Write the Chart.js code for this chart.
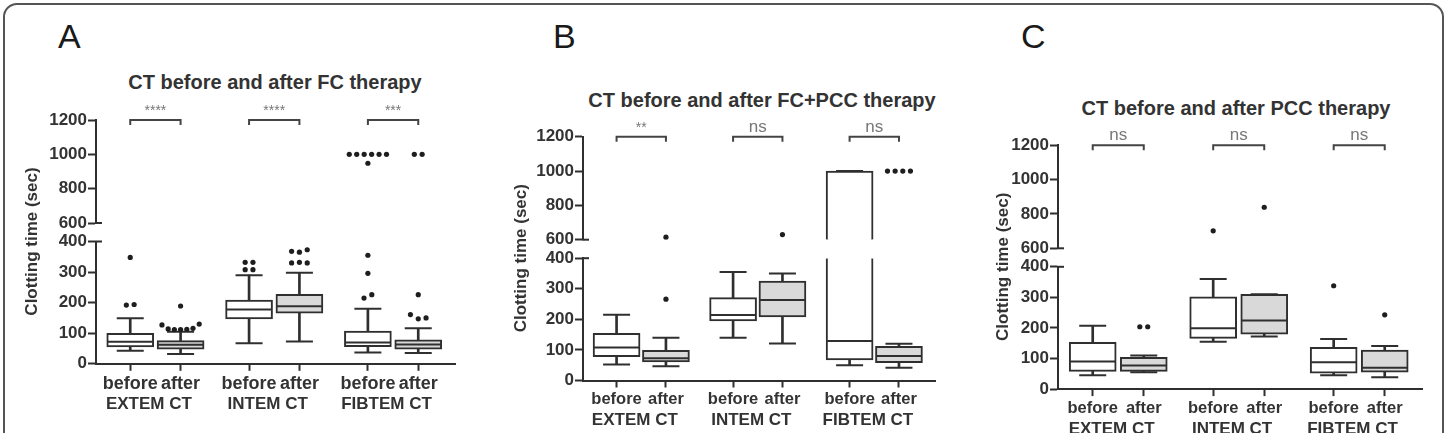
<!DOCTYPE html>
<html lang="en">
<head>
<meta charset="utf-8">
<title>CT before and after therapy</title>
<script src="https://cdn.jsdelivr.net/npm/chart.js@4.4.1/dist/chart.umd.min.js"></script>
<style>
  html, body { margin: 0; padding: 0; }
  body { width: 1447px; height: 433px; overflow: hidden; background: #fff; position: relative;
         font-family: "Liberation Sans", Arial, sans-serif; color: #333; }
  #frame { position: absolute; left: 3px; top: 3px; width: 1441px; height: 480px;
           border: 2px solid #555; border-radius: 14px; box-sizing: border-box; }
  .letter { position: absolute; font-size: 34px; line-height: 34px; color: #1a1a1a; }
  .title { position: absolute; font-size: 20px; line-height: 20px; font-weight: bold;
           white-space: nowrap; transform: translateX(-50%); color: #333; }
  canvas { position: absolute; top: 0; }
</style>
</head>
<body>
<div id="frame"></div>

<div class="letter" style="left:58px;top:19px">A</div>
<div class="letter" style="left:553px;top:19px">B</div>
<div class="letter" style="left:1021px;top:19px">C</div>

<div class="title" id="titleA" style="left:275px;top:72px"></div>
<div class="title" id="titleB" style="left:762px;top:90px"></div>
<div class="title" id="titleC" style="left:1236px;top:98px"></div>

<canvas id="chartA" width="480" height="470" style="left:0px"></canvas>
<canvas id="chartB" width="480" height="470" style="left:480px"></canvas>
<canvas id="chartC" width="487" height="470" style="left:960px"></canvas>

<script>
// ---- data ----
const groupLabels = ['EXTEM CT', 'INTEM CT', 'FIBTEM CT'];
const phaseLabels = ['before', 'after'];
const topTicks = [600, 800, 1000, 1200];
const bottomTicks = [0, 100, 200, 300, 400];
const yTitle = 'Clotting time (sec)';

// A: FC therapy (order: EXTEM before/after, INTEM before/after, FIBTEM before/after)
const fcTitle = 'CT before and after FC therapy';
const fcMin    = [43, 32, 67, 73, 37, 35];
const fcQ1     = [55, 48, 147, 166, 56, 48];
const fcMedian = [72, 62, 178, 188, 70, 63];
const fcQ3     = [100, 76, 208, 227, 107, 78];
const fcMax    = [149, 105, 290, 298, 180, 116];
const fcOutliers = [
  [[192, 194], [348]],
  [[189], [127, 114, 112, 112, 113, 116, 130]],
  [[308, 308], [332, 332]],
  [[330, 332, 330], [368, 365, 373]],
  [[215, 226], [296], [355], [948], [1000, 1000, 1000, 1000, 1000, 1000]],
  [[161, 147, 150], [226], [1000, 1000]]
];
const fcSignif = ['****', '****', '***'];

// B: FC+PCC therapy
const fcpccTitle = 'CT before and after FC+PCC therapy';
const fcpccMin    = [52, 47, 140, 121, 50, 42];
const fcpccQ1     = [78, 61, 195, 208, 67, 58];
const fcpccMedian = [108, 73, 214, 263, 129, 80];
const fcpccQ3     = [154, 99, 271, 325, 1000, 112];
const fcpccMax    = [215, 140, 355, 350, 1000, 120];
const fcpccOutliers = [[], [[266], [615]], [], [[630]], [], [[1000, 1000, 1000, 1000]]];
const fcpccSignif = ['**', 'ns', 'ns'];

// C: PCC therapy
const pccTitle = 'CT before and after PCC therapy';
const pccMin    = [45, 55, 155, 172, 45, 39];
const pccQ1     = [58, 58, 166, 180, 52, 55];
const pccMedian = [90, 77, 199, 224, 88, 70];
const pccQ3     = [153, 104, 302, 310, 137, 128];
const pccMax    = [207, 110, 360, 310, 164, 141];
const pccOutliers = [[], [[204, 204]], [[702]], [[839]], [[338]], [[243]]];
const pccSignif = ['ns', 'ns', 'ns'];

// ---- look & layout ----
const LINE = '#2f2f2f';
const TEXT = '#333333';
const FILLS = ['#ffffff', '#d9d9d9'];
const FONT = '"Liberation Sans", Arial, sans-serif';
const GROUP_STEP = 2.36;      // distance between the before boxes of two groups
const X_MIN = -0.68, X_MAX = 6.46;
const DOT_STEP = 0.155;
const LABEL_SHIFT = -0.13;
const CANVAS_H = 470;
const PLOT_H = 243.8;
const X_H = 30, XG_H = 22;
const BREAK_LO = bottomTicks[bottomTicks.length - 1];
const BREAK_HI = topTicks[0];

Chart.defaults.font.family = FONT;

const pos = i => Math.floor(i / 2) * GROUP_STEP + (i % 2);

function parts(a, b) {
  const out = [];
  if (a <= BREAK_LO) out.push({ axis: 'yBot', lo: a, hi: Math.min(b, BREAK_LO), cut: b > BREAK_LO });
  if (b >= BREAK_HI) out.push({ axis: 'yTop', lo: Math.max(a, BREAK_HI), hi: b, cut: a < BREAK_HI });
  return out;
}
const axisFor = v => (v >= BREAK_HI ? 'yTop' : 'yBot');
const dotStep = n => Math.min(DOT_STEP, 0.74 / Math.max(n - 1, 1));

function buildDatasets(d) {
  const sets = [];
  ['yBot', 'yTop'].forEach(axis => {
    const boxes = [], stems = [], caps = [], meds = [], dots = [];
    for (let i = 0; i < d.min.length; i++) {
      const x = pos(i);
      parts(d.q1[i], d.q3[i]).filter(p => p.axis === axis).forEach(p => {
        boxes.push({ x, y: [p.lo, p.hi], fill: FILLS[i % 2],
                     skip: p.cut ? (axis === 'yBot' ? 'top' : 'bottom') : false });
      });
      [[d.min[i], d.q1[i]], [d.q3[i], d.max[i]]].forEach(([a, b]) => {
        if (b > a) parts(a, b).filter(p => p.axis === axis).forEach(p => stems.push({ x, y: [p.lo, p.hi] }));
      });
      [d.min[i], d.max[i]].forEach(v => { if (axisFor(v) === axis) caps.push({ x, y: v }); });
      if (axisFor(d.median[i]) === axis) meds.push({ x, y: d.median[i] });
      d.outliers[i].forEach(row => {
        const st = dotStep(row.length);
        row.forEach((v, k) => {
          if (axisFor(v) === axis) dots.push({ x: x + (k - (row.length - 1) / 2) * st, y: v });
        });
      });
    }
    sets.push({
      type: 'scatter', data: dots, yAxisID: axis, xAxisID: 'x', order: 0, showLine: false,
      pointRadius: 2.6, pointBackgroundColor: '#1e1e1e', pointBorderWidth: 0
    });
    sets.push({
      type: 'scatter', data: meds, yAxisID: axis, xAxisID: 'x', order: 1, showLine: false,
      pointStyle: 'line', pointRadius: 22.5, pointBorderWidth: 2, pointBorderColor: LINE
    });
    sets.push({
      type: 'scatter', data: caps, yAxisID: axis, xAxisID: 'x', order: 2, showLine: false,
      pointStyle: 'line', pointRadius: 13.5, pointBorderWidth: 2, pointBorderColor: LINE
    });
    sets.push({
      type: 'bar', data: boxes, yAxisID: axis, xAxisID: 'x', order: 3, grouped: false,
      barThickness: 47, borderWidth: 2, borderColor: LINE,
      backgroundColor: c => (c.raw ? c.raw.fill : '#fff'),
      borderSkipped: c => (c.raw ? c.raw.skip : false)
    });
    sets.push({
      type: 'bar', data: stems, yAxisID: axis, xAxisID: 'x', order: 4, grouped: false,
      barThickness: 2, borderWidth: 0, backgroundColor: LINE
    });
  });
  return sets;
}

function decorPlugin(panel) {
  return {
    id: 'decor',
    afterDraw(chart) {
      const { ctx, chartArea, scales: { x, yTop, yBot } } = chart;
      ctx.save();
      ctx.strokeStyle = LINE;
      ctx.lineWidth = 2;
      // axis break marks
      [yTop.bottom, yBot.top].forEach(py => {
        ctx.beginPath();
        ctx.moveTo(chartArea.left - 1, py);
        ctx.lineTo(chartArea.left + 6, py);
        ctx.stroke();
      });
      // significance brackets
      const by = yTop.getPixelForValue(topTicks[topTicks.length - 1]);
      panel.signif.forEach((label, g) => {
        const x1 = x.getPixelForValue(pos(2 * g));
        const x2 = x.getPixelForValue(pos(2 * g + 1));
        ctx.strokeStyle = '#444';
        ctx.beginPath();
        ctx.moveTo(x1, by + 5);
        ctx.lineTo(x1, by);
        ctx.lineTo(x2, by);
        ctx.lineTo(x2, by + 5);
        ctx.stroke();
        ctx.fillStyle = '#777';
        ctx.font = (label === 'ns' ? '17px ' : '14px ') + FONT;
        ctx.textAlign = 'center';
        ctx.textBaseline = 'alphabetic';
        ctx.fillText(label, (x1 + x2) / 2, by - 5);
      });
      // y axis title, centred on the break
      ctx.translate(chartArea.left - panel.titleOffset, yBot.top);
      ctx.rotate(-Math.PI / 2);
      ctx.fillStyle = TEXT;
      ctx.font = 'bold 17px ' + FONT;
      ctx.textAlign = 'center';
      ctx.textBaseline = 'middle';
      ctx.fillText(yTitle, 0, 0);
      ctx.restore();
    }
  };
}

function makePanel(panel) {
  document.getElementById(panel.titleId).textContent = panel.title;
  const yWidth = panel.axisX - panel.left;
  const rightPad = panel.left + panel.width - (panel.axisX + panel.plotW);
  const bottomPad = CANVAS_H - panel.top - PLOT_H - X_H - XG_H;
  const tickFont = { weight: 'bold', size: 17 };
  const yAxis = (ticks, weight) => ({
    type: 'linear', position: 'left', stack: 'y', stackWeight: weight,
    min: ticks[0], max: ticks[ticks.length - 1],
    afterBuildTicks: s => { s.ticks = ticks.map(v => ({ value: v })); },
    afterFit: s => { s.width = yWidth; },
    ticks: { color: TEXT, font: tickFont, padding: 1, autoSkip: false, callback: v => String(v) },
    grid: { drawOnChartArea: false, tickLength: 8, tickWidth: 2, tickColor: LINE },
    border: { color: LINE, width: 2 }
  });
  return new Chart(document.getElementById(panel.id), {
    type: 'bar',
    data: { datasets: buildDatasets(panel) },
    options: {
      responsive: false,
      animation: false,
      events: [],
      layout: { padding: { left: 0, right: rightPad, top: panel.top, bottom: bottomPad } },
      plugins: { legend: { display: false }, tooltip: { enabled: false }, title: { display: false } },
      scales: {
        x: {
          type: 'linear', position: 'bottom', min: X_MIN, max: X_MAX, offset: false,
          afterBuildTicks: s => { s.ticks = panel.min.map((v, i) => ({ value: pos(i) })); },
          afterFit: s => { s.height = X_H; },
          ticks: { autoSkip: false, maxRotation: 0, color: TEXT, font: { weight: 'bold', size: panel.xFont },
                   padding: 2, callback: (v, i) => phaseLabels[i % 2] },
          grid: { offset: false, drawOnChartArea: false, tickLength: 7, tickWidth: 2, tickColor: LINE },
          border: { color: LINE, width: 2 }
        },
        xg: {
          type: 'linear', position: 'bottom', min: X_MIN, max: X_MAX, offset: false,
          afterBuildTicks: s => { s.ticks = groupLabels.map((g, k) => ({ value: k * GROUP_STEP + 0.5 + LABEL_SHIFT })); },
          afterFit: s => { s.height = XG_H; },
          ticks: { autoSkip: false, maxRotation: 0, color: TEXT, font: { weight: 'bold', size: 17 },
                   padding: 0, callback: (v, i) => groupLabels[i] },
          grid: { offset: false, display: false, drawTicks: false },
          border: { display: false }
        },
        yBot: yAxis(bottomTicks, 122.3),
        yGap: {
          type: 'linear', position: 'left', stack: 'y', stackWeight: 18.5,
          afterFit: s => { s.width = yWidth; },
          ticks: { display: false }, grid: { display: false, drawTicks: false }, border: { display: false }
        },
        yTop: yAxis(topTicks, 103)
      }
    },
    plugins: [decorPlugin(panel)]
  });
}

makePanel({ id: 'chartA', titleId: 'titleA', title: fcTitle, left: 0, width: 480, axisX: 96, plotW: 367,
            top: 120, titleOffset: 64, xFont: 18,
            min: fcMin, q1: fcQ1, median: fcMedian, q3: fcQ3, max: fcMax, outliers: fcOutliers, signif: fcSignif });
makePanel({ id: 'chartB', titleId: 'titleB', title: fcpccTitle, left: 480, width: 480, axisX: 583, plotW: 367,
            top: 136.7, titleOffset: 62, xFont: 16.5,
            min: fcpccMin, q1: fcpccQ1, median: fcpccMedian, q3: fcpccQ3, max: fcpccMax, outliers: fcpccOutliers, signif: fcpccSignif });
makePanel({ id: 'chartC', titleId: 'titleC', title: pccTitle, left: 960, width: 487, axisX: 1058, plotW: 367,
            top: 145.3, titleOffset: 55, xFont: 16.5,
            min: pccMin, q1: pccQ1, median: pccMedian, q3: pccQ3, max: pccMax, outliers: pccOutliers, signif: pccSignif });
</script>
</body>
</html>
